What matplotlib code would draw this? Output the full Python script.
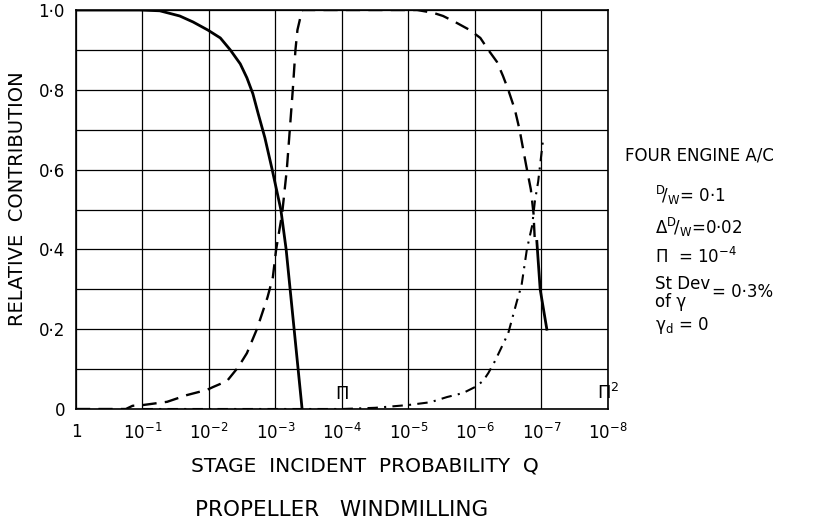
import matplotlib.pyplot as plt
import matplotlib.ticker as mticker
import numpy as np

# x values are log10(Q)
solid_logq = [0, -0.96, -1.26, -1.56, -1.76, -1.98, -2.17, -2.32, -2.47, -2.57, -2.66, -2.74, -2.84,
              -2.95, -3.08, -3.16, -3.22, -3.28, -3.34, -3.40]
solid_val = [1.0, 1.0, 0.998, 0.985, 0.97, 0.95, 0.93, 0.9, 0.865, 0.83, 0.79, 0.74, 0.68,
             0.6, 0.5, 0.4, 0.3, 0.2, 0.1, 0.0]

solid2_logq = [-6.93, -6.98, -7.08]
solid2_val = [0.42, 0.3, 0.2]

dashed_logq = [0, -0.75, -0.85, -1.01, -1.37, -1.67, -1.97, -2.06, -2.27, -2.44, -2.57, -2.72, -2.88,
               -2.96, -3.01, -3.10, -3.17, -3.26, -3.30, -3.33, -3.40, -4.87, -5.13, -5.37, -5.52,
               -5.70, -5.92, -6.08, -6.20, -6.33, -6.42, -6.50, -6.60, -6.67, -6.77, -6.84, -6.88, -6.90]
dashed_val = [0.0, 0.0, 0.008, 0.01, 0.018, 0.035, 0.048, 0.055, 0.07, 0.105, 0.14, 0.2, 0.28,
              0.33, 0.4, 0.49, 0.6, 0.8, 0.9, 0.95, 1.0, 1.0, 1.0, 0.993, 0.985,
              0.97, 0.95, 0.93, 0.9, 0.87, 0.835, 0.8, 0.75, 0.70, 0.61, 0.55, 0.49, 0.42]

dashdot_logq = [-1.0, -4.0, -4.5, -5.0, -5.33, -5.58, -5.82, -6.0, -6.12, -6.2, -6.3, -6.5, -6.63,
                -6.7, -6.78, -6.86, -6.9, -6.95, -7.02]
dashdot_val = [0.0, 0.0, 0.003, 0.01, 0.017, 0.03, 0.04, 0.055, 0.07, 0.09, 0.12, 0.19, 0.27,
               0.31, 0.40, 0.46, 0.52, 0.57, 0.67]

x_ticks = [1, 1e-1, 1e-2, 1e-3, 1e-4, 1e-5, 1e-6, 1e-7, 1e-8]
x_labels = ["1", "$10^{-1}$", "$10^{-2}$", "$10^{-3}$", "$10^{-4}$", "$10^{-5}$",
            "$10^{-6}$", "$10^{-7}$", "$10^{-8}$"]
y_ticks = [0, 0.2, 0.4, 0.6, 0.8, 1.0]
y_labels = ["0", "0·2", "0·4", "0·6", "0·8", "1·0"]

W, H = 820, 522
fig = plt.figure(figsize=(W / 100, H / 100), dpi=100, facecolor="white")
ax = fig.add_axes([76 / W, 1 - 409 / H, (608 - 76) / W, (409 - 10) / H])

q = lambda v: np.power(10.0, v)

ax.plot(q(solid_logq), solid_val, color="black", lw=2.0)
ax.plot(q(solid2_logq), solid2_val, color="black", lw=2.0)
ax.plot(q(dashed_logq), dashed_val, color="black", lw=1.7, linestyle=(0, (6, 3.5)))
ax.plot(q(dashdot_logq), dashdot_val, color="black", lw=1.5, linestyle=(0, (5, 3, 1, 3)))

ax.set_xscale("log")
ax.set_xlim(1, 1e-8)
ax.set_ylim(0, 1.0)
ax.xaxis.set_major_locator(mticker.FixedLocator(x_ticks))
ax.xaxis.set_minor_locator(mticker.NullLocator())
ax.set_xticklabels(x_labels)
ax.set_yticks(y_ticks)
ax.set_yticklabels(y_labels)
ax.set_yticks(np.arange(0, 1.01, 0.1), minor=True)
ax.grid(True, which="major", axis="x", color="black", lw=0.9)
ax.grid(True, which="both", axis="y", color="black", lw=0.9)
ax.tick_params(which="both", length=0, labelsize=12)
ax.tick_params(axis="x", pad=10)
ax.tick_params(axis="y", pad=8)
for s in ax.spines.values():
    s.set_linewidth(1.2)

ax.text(1e-4, 0.015, "Π", ha="center", va="bottom", fontsize=13)
ax.text(1e-8, 0.015, "Π$^2$", ha="center", va="bottom", fontsize=13)

ax.set_xlabel("STAGE  INCIDENT  PROBABILITY  Q", fontsize=14.5)
ax.xaxis.set_label_coords(0.543, -0.118)
ax.set_ylabel("RELATIVE  CONTRIBUTION", fontsize=14)
ax.yaxis.set_label_coords(-0.092, 0.526)

fig.text(342 / W, 1 - 510 / H, "PROPELLER   WINDMILLING", ha="center", va="center", fontsize=15.5)

def ftxt(x, y, s, **kw):
    fig.text(x / W, 1 - y / H, s, ha="left", va="center", fontsize=12, **kw)

ftxt(625, 155, "FOUR ENGINE A/C")
ftxt(655, 195, r"$^{\rm D}\!/_{\rm W}$= 0·1")
ftxt(655, 227, r"$\Delta^{\rm D}\!/_{\rm W}$=0·02")
ftxt(655, 257, r"Π  = 10$^{-4}$")
ftxt(655, 284, "St Dev")
ftxt(655, 302, "of γ")
ftxt(712, 292, "= 0·3%")
ftxt(655, 326, r"γ$_{\rm d}$ = 0")

fig.savefig("out.png", dpi=100, facecolor="white")
